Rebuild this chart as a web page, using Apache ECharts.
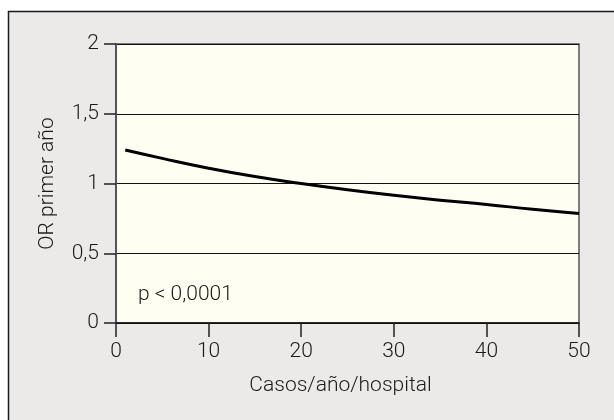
<!DOCTYPE html>
<html>
<head>
<meta charset="utf-8">
<script src="https://cdn.jsdelivr.net/npm/echarts@6/dist/echarts.min.js"></script>
<style>html,body{margin:0;padding:0;background:#fff;}#c{width:614px;height:420px;}</style>
</head>
<body>
<div id="c"></div>
<script>
var casos = [1, 5, 10, 15, 20, 25, 30, 35, 40, 45, 50];
var orValues = [1.24, 1.18, 1.11, 1.05, 1.00, 0.955, 0.915, 0.88, 0.85, 0.815, 0.785];
var yTickLabels = {0: '0', 0.5: '0,5', 1: '1', 1.5: '1,5', 2: '2'};
var xAxisTitle = 'Casos/año/hospital';
var yAxisTitle = 'OR primer año';
var annotation = 'p < 0,0001';

var FONT = 'Roboto, "Liberation Sans", Arial, sans-serif';
var FW = 300;
var FS = 21;
var chart = echarts.init(document.getElementById('c'), null, {renderer: 'canvas'});
chart.setOption({
  backgroundColor: '#ffffff',
  animation: false,
  graphic: [
    {type: 'rect', z: -1, silent: true,
     shape: {x: 8.5, y: 11.5, width: 620, height: 430},
     style: {fill: '#ebeae8', stroke: '#1a1a1a', lineWidth: 1.5}},
    {type: 'text', z: 10, left: 138, top: 284,
     style: {text: annotation, fill: '#1a1a1a', font: FW + ' ' + FS + 'px ' + FONT}}
  ],
  grid: {left: 116, right: 35, top: 44, bottom: 97, show: true,
         backgroundColor: '#fefef3', borderColor: '#555', borderWidth: 1.5},
  xAxis: {
    type: 'value', min: 0, max: 50, interval: 10,
    name: xAxisTitle, nameLocation: 'middle', nameGap: 52,
    nameTextStyle: {fontFamily: FONT, fontWeight: FW, fontSize: FS, color: '#1a1a1a', padding: [0, 14, 0, 0]},
    axisLine: {show: true, onZero: false, lineStyle: {color: '#111', width: 1.5}},
    axisTick: {show: true, length: 14, lineStyle: {color: '#222', width: 1.5}},
    axisLabel: {fontFamily: FONT, fontWeight: FW, fontSize: FS, color: '#1a1a1a', margin: 18},
    splitLine: {show: false}
  },
  yAxis: {
    type: 'value', min: 0, max: 2, interval: 0.5,
    name: yAxisTitle, nameLocation: 'middle', nameGap: 58, nameRotate: 90,
    nameTextStyle: {fontFamily: FONT, fontWeight: FW, fontSize: FS, color: '#1a1a1a'},
    axisLine: {show: true, onZero: false, lineStyle: {color: '#555', width: 2}},
    axisTick: {show: true, length: 12, lineStyle: {color: '#222', width: 1.5}},
    axisLabel: {fontFamily: FONT, fontWeight: FW, fontSize: FS, color: '#1a1a1a', margin: 17,
      formatter: function (v) { return yTickLabels[v] !== undefined ? yTickLabels[v] : ''; }},
    splitLine: {show: true, lineStyle: {color: '#111', width: 1.2}}
  },
  series: [{
    type: 'line', smooth: true, showSymbol: false, symbol: 'none',
    data: casos.map(function (x, i) { return [x, orValues[i]]; }),
    lineStyle: {color: '#000', width: 3}
  }]
});
</script>
</body>
</html>
